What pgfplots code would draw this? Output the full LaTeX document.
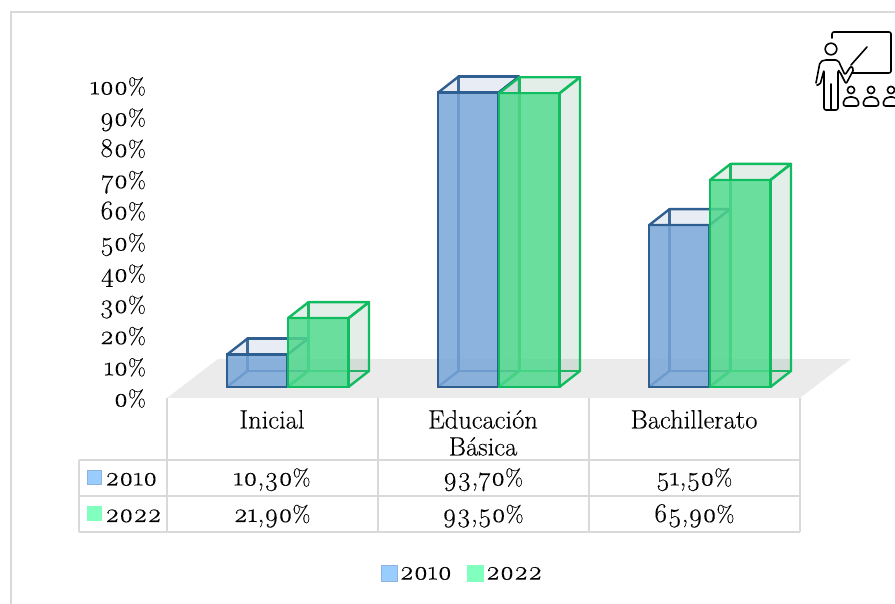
\documentclass[border=0pt]{standalone}
\usepackage{fontspec}
\setmainfont{Latin Modern Roman}[Numbers=OldStyle,FakeBold=0.25]
\usepackage{pgfplots}
\pgfplotsset{compat=1.18}
\definecolor{edgeA}{HTML}{2F5F90}
\definecolor{edgeB}{HTML}{10BC60}
\definecolor{frontA}{HTML}{78A6D8}
\definecolor{frontB}{HTML}{4FD88C}
\definecolor{sideA}{HTML}{7F96C0}
\definecolor{sideB}{HTML}{5F9F78}
\definecolor{floorc}{HTML}{EBEBEB}
\definecolor{grid}{HTML}{D9D9D9}
\definecolor{keyA}{HTML}{99CCFF}
\definecolor{keyAe}{HTML}{8DB4DA}
\definecolor{keyB}{HTML}{80FFBF}
\newcommand\dg[1]{{\fontsize{27}{27}\selectfont #1}}
\newcommand\pc[1]{{\fontsize{27}{27}\selectfont #1\fontsize{23}{27}\selectfont\%}}
\pgfplotsset{sqlegend/.style={legend image code/.code={\draw[##1] (0pt,-8pt) rectangle (16pt,8pt);}}}
\newcommand\cuboid[4]{%
  % #1 left x (px), #2 value (%), #3 edge colour, #4 side fill
  \pgfmathsetmacro\xa{#1+60.5}\pgfmathsetmacro\xb{#1+20.5}\pgfmathsetmacro\xc{#1+81}\pgfmathsetmacro\vt{#2+5.1}%
  \edef\doit{%
    \noexpand\addplot[forget plot,draw=#3,line width=2.4pt,line join=round] coordinates
      {(\xb,5.1)(\xc,5.1)(\xc,\vt)(\xb,\vt)(\xb,5.1)};
    \noexpand\addplot[forget plot,fill=#4,fill opacity=.18,draw=#3,line width=2.4pt,line join=round] coordinates
      {(#1,#2)(\xa,#2)(\xc,\vt)(\xb,\vt)(#1,#2)};
    \noexpand\addplot[forget plot,fill=#4,fill opacity=.18,draw=#3,line width=2.4pt,line join=round] coordinates
      {(\xa,0)(\xc,5.1)(\xc,\vt)(\xa,#2)(\xa,0)};
    \noexpand\addplot[forget plot,draw=#3,line width=2.4pt] coordinates {(#1,0)(\xb,5.1)};
  }\doit}
\begin{document}
\begin{tikzpicture}[font=\fontsize{26.5}{27}\selectfont]
\begin{axis}[
  scale only axis,width=895pt,height=604pt,
  xmin=0,xmax=895,ymin=-69.1,ymax=123.2,
  axis lines=none,ticks=none,clip=true,
  legend style={at={(462.5/895,30/604)},anchor=center,draw=none,fill=none,legend columns=2,
    /tikz/every even column/.append style={column sep=13pt},
    inner sep=0pt,font=\fontsize{27}{27}\selectfont},
  legend cell align=left,
]
% floor
\addplot[forget plot,fill=floorc,draw=none] coordinates {(167,-3.5)(218,8.9)(851,8.9)(800,-3.5)(167,-3.5)};
% 2010
\cuboid{227}{10.3}{edgeA}{sideA}
\cuboid{438}{93.7}{edgeA}{sideA}
\cuboid{649}{51.5}{edgeA}{sideA}
\addplot[forget plot,ybar,bar width=60.5pt,bar shift=0pt,fill=frontA,fill opacity=.85,draw=edgeA,line width=2.4pt]
  coordinates {(257.25,10.3)(468.25,93.7)(679.25,51.5)};
% 2022
\cuboid{288}{21.9}{edgeB}{sideB}
\cuboid{499}{93.5}{edgeB}{sideB}
\cuboid{710}{65.9}{edgeB}{sideB}
\addplot[forget plot,ybar,bar width=60.5pt,bar shift=0pt,fill=frontB,fill opacity=.85,draw=edgeB,line width=2.4pt]
  coordinates {(318.25,21.9)(529.25,93.5)(740.25,65.9)};
\addlegendimage{sqlegend,fill=keyA,draw=keyAe,line width=1pt}
\addlegendentry{2010}
\addlegendimage{sqlegend,fill=keyB,draw=keyB,line width=1pt}
\addlegendentry{2022}
\end{axis}
% percentage scale
\begin{axis}[
  at={(150pt,205pt)},anchor=south west,
  scale only axis,width=100pt,height=312pt,
  xmin=0,xmax=1,ymin=0,ymax=100,
  axis line style={draw=none},tick style={draw=none},
  xtick=\empty,ytick={0,10,...,100},
  yticklabels={\pc{0},\pc{10},\pc{20},\pc{30},\pc{40},\pc{50},\pc{60},\pc{70},\pc{80},\pc{90},\pc{100}},
  yticklabel style={inner sep=0pt,xshift=-4pt,text height=15pt,text depth=0pt,yshift=0pt},
]
\end{axis}
\begin{scope}[x=1pt,y=-1pt,yshift=604pt]
\clip (0,0) rectangle (895,604);
% frame
\draw[grid,line width=2pt] (895,12) -- (11,12) -- (11,604);
% data table
\draw[grid,line width=2.5pt] (79,460) -- (800,460) (79,496) -- (800,496) (79,532) -- (800,532);
\draw[grid,line width=2.5pt] (79,460) -- (79,532) (167,398) -- (167,532) (378,398) -- (378,532) (589,398) -- (589,532) (800,398) -- (800,532);
\begin{scope}[every node/.style={text height=15pt,text depth=0pt,inner sep=0pt}]
\node at (272,421) {Inicial};
\node at (483,421) {Educación};
\node at (483,448) {Básica};
\node at (694,421) {Bachillerato};
\node[anchor=west] at (105,478) {\dg{2010}};
\node[anchor=west] at (105,514.5) {\dg{2022}};
\foreach \x/\a/\b in {272/{10,30}/{21,90},483/{93,70}/{93,50},694/{51,50}/{65,90}}{
  \node at (\x,478) {\pc{\a}};
  \node at (\x,514.5) {\pc{\b}};
}
\end{scope}
\fill[keyA,draw=keyAe,line width=1pt] (87.5,471) rectangle (101.5,485);
\fill[keyB] (87,506) rectangle (102,521);
% icon
\begin{scope}[black,line width=1.6pt,line join=round,line cap=round]
\draw[rounded corners=2pt] (832,38) -- (832,32) -- (891,32) -- (891,73) -- (852,73);
\draw (867,47) -- (851,65);
\draw (831,49) circle (5.8);
\draw[rounded corners=2pt] (816,83) -- (820,62) -- (824,60) -- (838,60) -- (845,75) -- (851,66) -- (854,69) -- (846,84) -- (840,72) -- (838,70) -- (838,110) -- (824,110) -- (824,70) -- (820,85) -- (817,85);
\draw (831,84) -- (831,110);
\foreach \x in {851,871,891}{
  \draw (\x,90) circle (3.6);
  \draw[rounded corners=2pt] (\x-7.5,106) -- (\x-7.5,100) -- (\x-3,97) -- (\x+3,97) -- (\x+7.5,100) -- (\x+7.5,106) -- cycle;
}
\end{scope}
\end{scope}
\end{tikzpicture}
\end{document}
